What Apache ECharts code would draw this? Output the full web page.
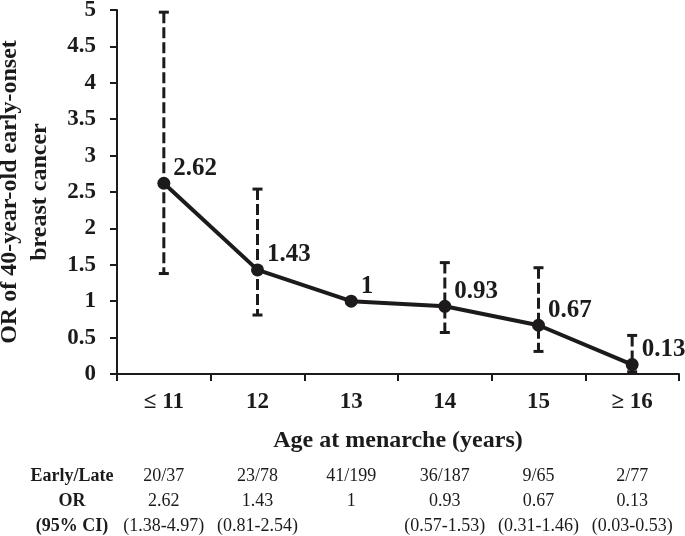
<!DOCTYPE html>
<html>
<head>
<meta charset="utf-8">
<script src="https://cdn.jsdelivr.net/npm/echarts@6/dist/echarts.min.js"></script>
<style>
html,body{margin:0;padding:0;background:#fff;}
#chart{width:685px;height:536px;}
</style>
</head>
<body>
<div id="chart"></div>
<script>
// ---- data ----
var categories = ['\u2264 11', '12', '13', '14', '15', '\u2265 16'];
var orValues = [2.62, 1.43, 1, 0.93, 0.67, 0.13];
var ciLow = [1.38, 0.81, null, 0.57, 0.31, 0.03];
var ciHigh = [4.97, 2.54, null, 1.53, 1.46, 0.53];
var rowEarlyLate = ['20/37', '23/78', '41/199', '36/187', '9/65', '2/77'];
var rowOR = ['2.62', '1.43', '1', '0.93', '0.67', '0.13'];
var rowCI = ['(1.38-4.97)', '(0.81-2.54)', '', '(0.57-1.53)', '(0.31-1.46)', '(0.03-0.53)'];
var rowHeaders = ['Early/Late', 'OR', '(95% CI)'];
var yTicks = [0, 0.5, 1, 1.5, 2, 2.5, 3, 3.5, 4, 4.5, 5];

var FONT = "'Liberation Serif','Times New Roman',serif";
var INK = '#1c1a1b';

var errData = [];
for (var i = 0; i < categories.length; i++) {
  if (ciLow[i] != null) errData.push([i, ciLow[i], ciHigh[i]]);
}

function tableAxis(row, offset) {
  return {
    type: 'category', gridIndex: 0, position: 'bottom', offset: offset,
    data: row, boundaryGap: true,
    axisLine: {show: false}, axisTick: {show: false}, splitLine: {show: false},
    axisLabel: {
      show: true, interval: 0, margin: 0, verticalAlign: 'middle',
      fontFamily: FONT, fontSize: 18, color: INK
    }
  };
}

var chart = echarts.init(document.getElementById('chart'), null, {renderer: 'canvas'});
var option = {
  animation: false,
  backgroundColor: '#ffffff',
  grid: {left: 117, right: 6, top: 10, bottom: 162, containLabel: false, outerBoundsMode: 'none'},
  xAxis: [
    {
      type: 'category', data: categories, boundaryGap: true,
      axisLine: {show: true, lineStyle: {color: INK, width: 2}},
      axisTick: {show: true, inside: false, length: 7, alignWithLabel: false, lineStyle: {color: INK, width: 2}},
      axisLabel: {interval: 0, margin: 17, fontFamily: FONT, fontSize: 23, fontWeight: 'bold', color: INK},
      splitLine: {show: false},
      name: 'Age at menarche (years)', nameLocation: 'middle', nameGap: 55,
      nameTextStyle: {fontFamily: FONT, fontSize: 24, fontWeight: 'bold', color: INK}
    },
    tableAxis(rowEarlyLate, 102),
    tableAxis(rowOR, 127),
    tableAxis(rowCI, 152)
  ],
  yAxis: {
    type: 'value', min: yTicks[0], max: yTicks[yTicks.length - 1], interval: 0.5,
    axisLine: {show: true, lineStyle: {color: INK, width: 2}},
    axisTick: {show: true, inside: false, length: 7, lineStyle: {color: INK, width: 2}},
    axisLabel: {margin: 21, fontFamily: FONT, fontSize: 23, fontWeight: 'bold', color: INK},
    splitLine: {show: false},
    name: 'OR of 40-year-old early-onset\nbreast cancer', nameLocation: 'middle', nameGap: 62, nameRotate: 90,
    nameTextStyle: {fontFamily: FONT, fontSize: 24, fontWeight: 'bold', color: INK, lineHeight: 30}
  },
  graphic: [
    {type: 'text', x: 72, y: 476, style: {text: rowHeaders[0], font: 'bold 18px ' + FONT, fill: INK, textAlign: 'center', textVerticalAlign: 'middle'}},
    {type: 'text', x: 72, y: 501, style: {text: rowHeaders[1], font: 'bold 18px ' + FONT, fill: INK, textAlign: 'center', textVerticalAlign: 'middle'}},
    {type: 'text', x: 72, y: 526, style: {text: rowHeaders[2], font: 'bold 18px ' + FONT, fill: INK, textAlign: 'center', textVerticalAlign: 'middle'}}
  ],
  series: [
    {
      type: 'custom', xAxisIndex: 0, yAxisIndex: 0, z: 1,
      data: errData,
      encode: {x: 0, y: [1, 2]},
      renderItem: function (params, api) {
        var x = api.value(0);
        var lo = api.coord([x, api.value(1)]);
        var hi = api.coord([x, api.value(2)]);
        var cw = 5;
        return {
          type: 'group',
          children: [
            {type: 'line', shape: {x1: hi[0], y1: hi[1], x2: lo[0], y2: lo[1]},
             style: {stroke: INK, lineWidth: 3, lineDash: [11, 4]}},
            {type: 'line', shape: {x1: hi[0] - cw, y1: hi[1], x2: hi[0] + cw, y2: hi[1]},
             style: {stroke: INK, lineWidth: 3}},
            {type: 'line', shape: {x1: lo[0] - cw, y1: lo[1], x2: lo[0] + cw, y2: lo[1]},
             style: {stroke: INK, lineWidth: 3}}
          ]
        };
      }
    },
    {
      type: 'line', xAxisIndex: 0, yAxisIndex: 0, z: 3,
      data: orValues,
      symbol: 'circle', symbolSize: 13,
      lineStyle: {color: INK, width: 4},
      itemStyle: {color: INK},
      label: {
        show: true, position: 'right', distance: 3, offset: [0, -15],
        fontFamily: FONT, fontSize: 25, fontWeight: 'bold', color: INK
      }
    }
  ]
};
chart.setOption(option);
</script>
</body>
</html>
